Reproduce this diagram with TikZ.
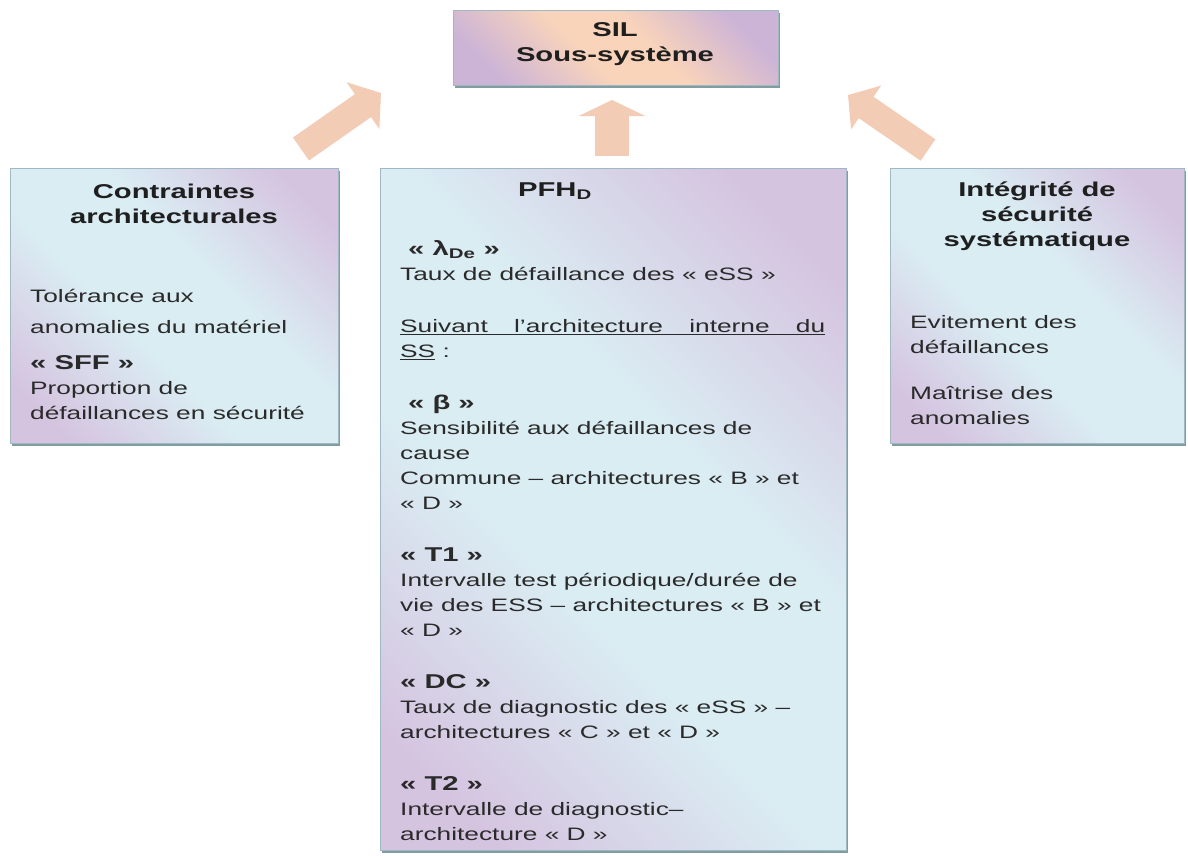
\documentclass[tikz,border=0pt]{standalone}
\usepackage{fontspec}
\setmainfont[FakeStretch=1.46]{Liberation Sans}
\usetikzlibrary{arrows.meta,shadows}
\definecolor{panelcyan}{RGB}{218,237,243}
\definecolor{panellilac}{RGB}{213,196,224}
\definecolor{silpeach}{RGB}{250,212,186}
\definecolor{sillilac}{RGB}{204,180,214}
\definecolor{paneledge}{RGB}{160,184,194}
\definecolor{panelshadow}{RGB}{128,158,162}
\definecolor{arrowpeach}{RGB}{243,204,182}
\definecolor{bodytext}{RGB}{42,42,42}
\pgfdeclarehorizontalshading{panelshade}{100bp}{color(0bp)=(panellilac); color(22bp)=(panellilac); color(42bp)=(panelcyan); color(58bp)=(panelcyan); color(78bp)=(panellilac); color(100bp)=(panellilac)}
\pgfdeclarehorizontalshading{silshade}{100bp}{color(0bp)=(sillilac); color(24bp)=(sillilac); color(44bp)=(silpeach); color(56bp)=(silpeach); color(76bp)=(sillilac); color(100bp)=(sillilac)}
\begin{document}
\begin{tikzpicture}[x=1pt,y=-1pt,
    panel/.style={draw=paneledge, line width=0.8pt, anchor=north west, inner sep=0pt,
      shading=panelshade, shading angle=45,
      drop shadow={shadow xshift=2pt, shadow yshift=-3pt, fill=panelshadow, opacity=1}},
    silbox/.style={panel, shading=silshade, shading angle=45},
    head/.style={font=\bfseries\fontsize{20}{25}\selectfont, text=black!88, align=center, inner sep=0pt},
    body/.style={font=\fontsize{18}{25}\selectfont, text=bodytext, align=left, anchor=north west, inner sep=0pt},
    bigarrow/.style={draw=arrowpeach}
  ]
  \fill[white] (0,0) rectangle (1188,855);
  \useasboundingbox (0,0) rectangle (1188,855);
  % boxes
  \node[silbox, minimum width=325pt, minimum height=75pt] (sil) at (453,10) {};
  \node[panel, minimum width=328pt, minimum height=275pt] (contr) at (10,168) {};
  \node[panel, minimum width=466pt, minimum height=682pt] (pfh) at (380,168) {};
  \node[panel, minimum width=294pt, minimum height=275pt] (integ) at (890,168) {};
  % titles
  \node[head] (siltitle) at (615,44) {SIL\\Sous-système};
  \node[head] (contrtitle) at (174,204) {Contraintes\\architecturales};
  \node[head] (pfhtitle) at (555,191) {PFH\textsubscript{D}};
  \node[head] (integtitle) at (1037,216) {Intégrité de\\sécurité\\systématique};
  % texts
  \node[body] (contrtext) at (30,289) {Tolérance aux\\[6pt]
    anomalies du matériel\\[11pt]
    {\bfseries\fontsize{20}{25}\selectfont « SFF »}\\
    Proportion de\\
    défaillances en sécurité};
  \node[body] (pfhtext) at (400,240) {\hspace{8pt}{\bfseries\fontsize{20}{25}\selectfont « λ\textsubscript{De} »}\\
    Taux de défaillance des « eSS »\\[27pt]
    \underline{\makebox[425pt][s]{Suivant l'architecture interne du}}\\
    \underline{SS} :\\[27pt]
    \hspace{8pt}{\bfseries\fontsize{20}{25}\selectfont « β »}\\
    Sensibilité aux défaillances de\\
    cause\\
    Commune – architectures « B » et\\
    « D »\\[27pt]
    {\bfseries\fontsize{20}{25}\selectfont « T1 »}\\
    Intervalle test périodique/durée de\\
    vie des ESS – architectures « B » et\\
    « D »\\[27pt]
    {\bfseries\fontsize{20}{25}\selectfont « DC »}\\
    Taux de diagnostic des « eSS » –\\
    architectures « C » et « D »\\[27pt]
    {\bfseries\fontsize{20}{25}\selectfont « T2 »}\\
    Intervalle de diagnostic–\\
    architecture « D »};
  \node[body] (integtext) at (910,315) {Evitement des\\
    défaillances\\[21pt]
    Maîtrise des\\
    anomalies};
  % arrows
  \coordinate (contrtail) at (301,149);
  \coordinate (contrtip) at (381,93);
  \coordinate (pfhtail) at (612,156);
  \coordinate (pfhtip) at (612,100);
  \coordinate (integtail) at (928,150);
  \coordinate (integtip) at (848,95);
  \draw[bigarrow, line width=28pt, -{Triangle[length=22pt,width=56pt]}] (contrtail) -- (contrtip);
  \draw[bigarrow, line width=34pt, -{Triangle[length=16pt,width=66pt]}] (pfhtail) -- (pfhtip);
  \draw[bigarrow, line width=26pt, -{Triangle[length=22pt,width=52pt]}] (integtail) -- (integtip);
\end{tikzpicture}
\end{document}
